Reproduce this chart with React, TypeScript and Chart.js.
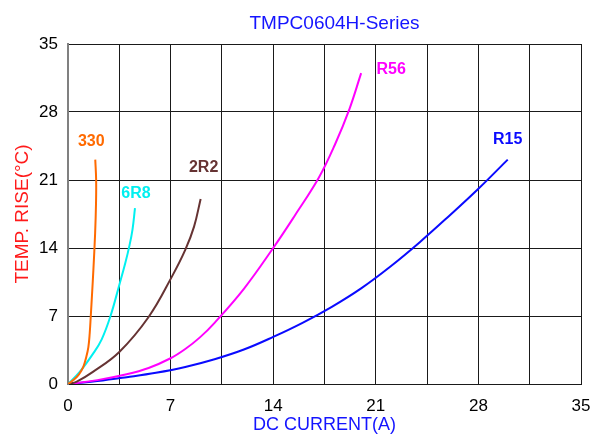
import React, { useEffect, useRef } from "react";
import { Chart, registerables } from "chart.js";

Chart.register(...registerables);

const TITLE = "TMPC0604H-Series";
const X_TITLE = "DC CURRENT(A)";
const Y_TITLE = "TEMP. RISE(°C)";

const X_MIN = 0;
const X_MAX = 35;
const X_GRID_STEP = 3.5;
const Y_MIN = 0;
const Y_MAX = 35;
const Y_STEP = 7;
const TICK_LABEL_STEP = 7;

// Series: DC current (A) vs temperature rise (°C)
const current330 = [0, 0.36, 0.75, 1.05, 1.25, 1.39, 1.48, 1.55, 1.65, 1.73, 1.85, 1.91, 1.92, 1.86];
const rise330 = [0, 0.4, 1.0, 1.8, 2.8, 3.8, 5.2, 6.9, 9.5, 11.7, 15.5, 18.5, 21, 23.1];

const current6R8 = [0, 0.8, 1.7, 2.3, 2.9, 3.5, 3.9, 4.2, 4.4, 4.57];
const rise6R8 = [0, 1.25, 3.1, 4.6, 7.0, 10.2, 12.4, 14.3, 15.9, 18.1];

const current2R2 = [0, 0.6, 1.7, 3.5, 5.5, 7.07, 8.0, 8.6, 9.05];
const rise2R2 = [0, 0.25, 1.25, 3.3, 6.9, 11, 13.8, 16.2, 19.05];

const currentR56 = [0, 2, 4, 5.5, 7, 8, 9, 10, 12, 14, 15.5, 17.1, 18.2, 19.2, 20];
const riseR56 = [0, 0.4, 1.0, 1.65, 2.65, 3.6, 4.8, 6.3, 9.8, 14.0, 17.4, 21.2, 24.6, 28.3, 32];

const currentR15 = [0, 2, 4, 6, 8, 10, 12, 14, 16, 18, 20, 22, 24, 26, 28, 30];
const riseR15 = [0, 0.3, 0.7, 1.15, 1.75, 2.55, 3.55, 4.85, 6.3, 7.95, 9.85, 12.1, 14.6, 17.3, 20.1, 23.1];

const seriesNames = ["330", "6R8", "2R2", "R56", "R15"];
const seriesCurrents = [current330, current6R8, current2R2, currentR56, currentR15];
const seriesRises = [rise330, rise6R8, rise2R2, riseR56, riseR15];

// styles
const seriesColors = ["#ff6a00", "#00f0f0", "#663333", "#ff00ff", "#0a0aff"];
const labelOffsets: [number, number][] = [
  [-4, -18],
  [1, -15],
  [3, -31],
  [30, -4],
  [0, -20],
];

const FONT = "'Liberation Sans', Arial, Helvetica, sans-serif";

const labelPlugin = {
  id: "seriesLabels",
  afterDatasetsDraw(chart: any) {
    const ctx = chart.ctx;
    const area = chart.chartArea;
    ctx.save();
    // chart title
    ctx.font = `19px ${FONT}`;
    ctx.fillStyle = "#1414ff";
    ctx.textAlign = "center";
    ctx.textBaseline = "alphabetic";
    ctx.fillText(TITLE, (area.left + area.right) / 2 + 10, 29);
    // series labels at the end of each curve
    ctx.font = `bold 16px ${FONT}`;
    ctx.textBaseline = "middle";
    chart.data.datasets.forEach((ds: any, i: number) => {
      const meta = chart.getDatasetMeta(i);
      const last = meta.data[meta.data.length - 1];
      if (!last) return;
      ctx.fillStyle = seriesColors[i];
      ctx.fillText(ds.label, last.x + labelOffsets[i][0], last.y + labelOffsets[i][1]);
    });
    ctx.restore();
  },
};

export default function App() {
  const ref = useRef<HTMLCanvasElement | null>(null);

  useEffect(() => {
    document.body.style.margin = "0";
    const canvas = ref.current;
    if (!canvas) return;
    const datasets = seriesNames.map((name, i) => ({
      label: name,
      data: seriesCurrents[i].map((x, j) => ({ x, y: seriesRises[i][j] })),
      borderColor: seriesColors[i],
      backgroundColor: seriesColors[i],
      borderWidth: 2,
      pointRadius: 0,
      showLine: true,
      tension: 0.4,
      fill: false,
    }));
    const chart = new Chart(canvas, {
      type: "scatter",
      data: { datasets },
      options: {
        responsive: false,
        animation: false,
        layout: { padding: { top: 44, left: 0, right: 11, bottom: 0 } },
        plugins: {
          legend: { display: false },
          title: { display: false },
          tooltip: { enabled: false },
        },
        scales: {
          x: {
            type: "linear",
            min: X_MIN,
            max: X_MAX,
            afterFit: (s: any) => {
              s.height = 50;
              s.paddingLeft = 0;
              s.paddingRight = 0;
            },
            ticks: {
              stepSize: X_GRID_STEP,
              padding: 12,
              color: "#000",
              font: { family: FONT, size: 17 },
              maxRotation: 0,
              autoSkip: false,
              callback: (v: any) => {
                const n = Number(v);
                const k = n / TICK_LABEL_STEP;
                return Math.abs(k - Math.round(k)) < 1e-6 ? String(Math.round(n)) : "";
              },
            },
            grid: { color: "#1a1a1a", lineWidth: 1, drawTicks: false },
            border: { display: true, color: "#1a1a1a", width: 1 },
            title: {
              display: true,
              text: X_TITLE,
              color: "#1414ff",
              font: { family: FONT, size: 18, lineHeight: 1 },
              padding: { top: 0, bottom: 0 },
            },
          },
          y: {
            type: "linear",
            min: Y_MIN,
            max: Y_MAX,
            afterFit: (s: any) => {
              s.width = 68;
            },
            ticks: {
              stepSize: Y_STEP,
              padding: 10,
              color: "#000",
              font: { family: FONT, size: 17 },
            },
            grid: { color: "#1a1a1a", lineWidth: 1, drawTicks: false },
            border: { display: true, color: "#808080", width: 2 },
            title: {
              display: true,
              text: Y_TITLE,
              color: "#ff1a1a",
              font: { family: FONT, size: 19, lineHeight: 1 },
              padding: { top: 13, bottom: 0 },
            },
          },
        },
      },
      plugins: [labelPlugin],
    });
    return () => chart.destroy();
  }, []);

  return (
    <div style={{ width: 592, height: 434 }}>
      <canvas ref={ref} width={592} height={434} style={{ display: "block" }} />
    </div>
  );
}
